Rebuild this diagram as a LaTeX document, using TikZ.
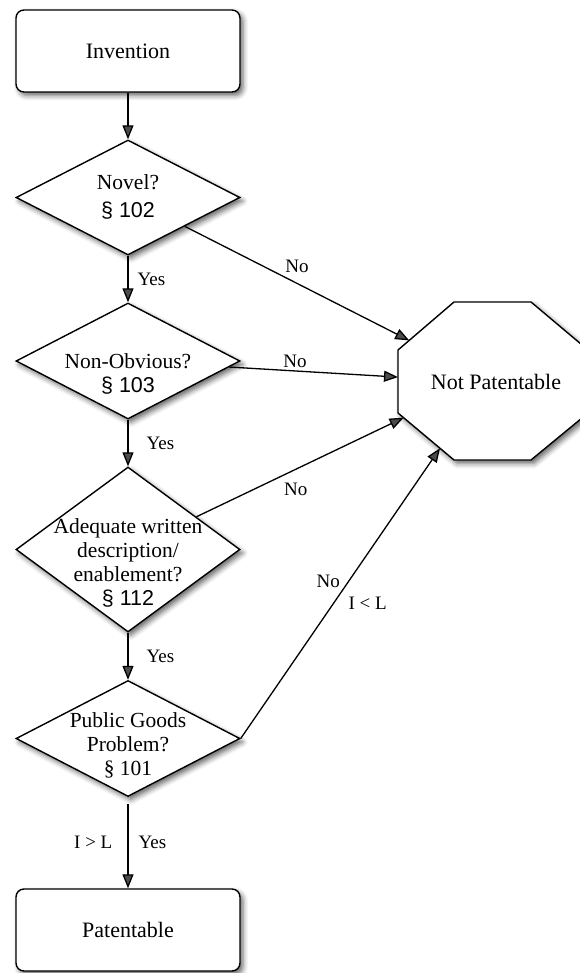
\documentclass[tikz,border=0pt]{standalone}
\usepackage{fontspec}
\setmainfont{Liberation Serif}
\newfontfamily\sfx{Liberation Sans}
\usetikzlibrary{shapes.geometric,arrows.meta,shadows.blur,calc}
\begin{document}
\begin{tikzpicture}[x=1pt,y=-1pt,
  shad/.style={blur shadow={shadow xshift=3pt, shadow yshift=-3.5pt, shadow blur radius=5pt, shadow opacity=60}},
  box/.style={draw, line width=1.4pt, rounded corners=8pt, minimum width=224pt, minimum height=82pt, fill=white, shad, font=\fontsize{22}{25}\selectfont},
  dia/.style={draw, diamond, line width=1.4pt, minimum width=224pt, minimum height=115pt, inner sep=0pt, fill=white, shad},
  dtext/.style={align=center, font=\fontsize{21.5}{24}\selectfont, inner sep=0pt},
  lab/.style={font=\fontsize{19}{22}\selectfont, inner sep=0pt},
  arr/.style={line width=1.3pt, -{Triangle[length=14pt,width=11pt]}},
]
\useasboundingbox (0,0) rectangle (580,973);

% flow column
\node[box] (inv) at (128,51) {Invention};
\node[dia] (novel) at (128,197.5) {};
\node[dia, minimum height=116pt] (nonob) at (128,361) {};
\node[dia, minimum height=165pt] (adeq) at (128,549.5) {};
\node[dia, minimum height=116pt] (pub) at (128,738.5) {};
\node[box] (pat) at (128,930) {Patentable};

\node[dtext] (tnov) at (128,197) {Novel?\\[4pt]{\sfx § 102}};
\node[dtext] (tnon) at (128,374) {Non-Obvious?\\{\sfx § 103}};
\node[dtext] (tade) at (128,563) {Adequate written\\description/\\enablement?\\{\sfx § 112}};
\node[dtext] (tpub) at (128,745) {Public Goods\\Problem?\\§ 101};

% octagon
\coordinate (o1) at (454,302);
\coordinate (o2) at (531,302);
\coordinate (o3) at (588,350);
\coordinate (o4) at (588,413);
\coordinate (o5) at (531,460);
\coordinate (o6) at (454,460);
\coordinate (o7) at (398,413);
\coordinate (o8) at (398,350);
\draw[line width=1.4pt, fill=white, shad] (o1) -- (o2) -- (o3) -- (o4) -- (o5) -- (o6) -- (o7) -- (o8) -- cycle;
\node[font=\fontsize{22}{25}\selectfont, inner sep=0pt] (np) at (496,382) {Not Patentable};

\coordinate (tA) at ($(o8)!0.2!(o1)$);
\coordinate (tB) at ($(o8)!0.43!(o7)$);
\coordinate (tC) at ($(o7)!0.1!(o6)$);
\coordinate (tD) at ($(o7)!0.75!(o6)$);

% vertical arrows
\draw[arr] (inv) -- (novel);
\draw[arr] (novel) -- node[lab, right=9pt] {Yes} (nonob);
\draw[arr] (nonob) -- node[lab, right=18pt] {Yes} (adeq);
\draw[arr] (adeq) -- node[lab, right=18pt] {Yes} (pub);
\draw[arr, shorten <=7pt] (pub) -- node[lab, right=10pt] {Yes} node[lab, left=15pt] {I > L} (pat);

% No arrows
\draw[arr] (novel) -- node[lab, pos=0.5, yshift=17pt] {No} (tA);
\draw[arr] (nonob) -- node[lab, pos=0.39, yshift=10pt] {No} (tB);
\draw[arr] (adeq) -- node[lab, pos=0.48, yshift=-20pt] {No} (tC);
\draw[arr] (pub.east) -- node[lab, pos=0.54, xshift=-20pt] {No} node[lab, pos=0.466, xshift=34pt] {I < L} (tD);
\end{tikzpicture}
\end{document}
